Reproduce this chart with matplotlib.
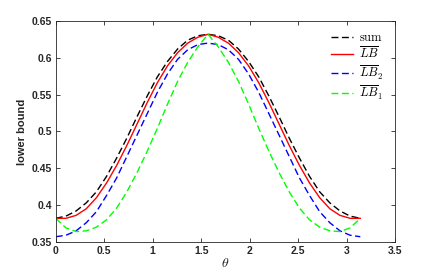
import numpy as np
import matplotlib
matplotlib.use("Agg")
import matplotlib.pyplot as plt

plt.rcParams['mathtext.fontset'] = 'cm'
plt.rcParams['font.family'] = ['Liberation Sans', 'DejaVu Sans']

# theta sampled at k*pi/30, k = 0..30
theta = np.linspace(0, np.pi, 31)

sum_vals = [0.382, 0.385, 0.392, 0.403, 0.418, 0.439, 0.464, 0.491, 0.520, 0.548,
            0.574, 0.595, 0.612, 0.624, 0.630, 0.632, 0.630, 0.624, 0.612, 0.595,
            0.574, 0.548, 0.520, 0.491, 0.464, 0.439, 0.418, 0.403, 0.392, 0.385, 0.382]
lb_vals = [0.382, 0.382, 0.386, 0.395, 0.410, 0.430, 0.454, 0.481, 0.510, 0.539,
           0.566, 0.589, 0.607, 0.620, 0.628, 0.632, 0.628, 0.620, 0.607, 0.589,
           0.566, 0.539, 0.510, 0.481, 0.454, 0.430, 0.410, 0.395, 0.386, 0.382, 0.382]
lb2_vals = [0.357, 0.359, 0.365, 0.376, 0.391, 0.413, 0.437, 0.466, 0.495, 0.524,
            0.553, 0.578, 0.598, 0.611, 0.618, 0.620, 0.618, 0.611, 0.598, 0.578,
            0.553, 0.524, 0.495, 0.466, 0.437, 0.413, 0.391, 0.376, 0.365, 0.359, 0.357]
lb1_vals = [0.382, 0.369, 0.364, 0.365, 0.370, 0.380, 0.396, 0.418, 0.444, 0.473,
            0.504, 0.537, 0.568, 0.594, 0.615, 0.632, 0.615, 0.594, 0.568, 0.537,
            0.504, 0.473, 0.444, 0.418, 0.396, 0.380, 0.370, 0.365, 0.364, 0.369, 0.382]

labels = [r'$\mathrm{sum}$', r'$\overline{LB}$', r'$\overline{LB}_2$', r'$\overline{LB}_1$']

xticks = [0, 0.5, 1, 1.5, 2, 2.5, 3, 3.5]
xtick_labels = ['0', '0.5', '1', '1.5', '2', '2.5', '3', '3.5']
yticks = [0.35, 0.4, 0.45, 0.5, 0.55, 0.6, 0.65]
ytick_labels = ['0.35', '0.4', '0.45', '0.5', '0.55', '0.6', '0.65']

fig = plt.figure(figsize=(4.36, 2.73), dpi=100)
ax = fig.add_axes([0.128, 0.114, 0.778, 0.809])

lw = 1.0
ax.plot(theta, sum_vals, color='k', ls=(0, (5, 2.5)), lw=lw, label=labels[0])
ax.plot(theta, lb_vals, color='#ff0000', ls='-', lw=lw, label=labels[1])
ax.plot(theta, lb2_vals, color='#0000ff', ls=(0, (5, 2.5)), lw=lw, label=labels[2])
ax.plot(theta, lb1_vals, color='#00ff00', ls=(0, (5, 2.5)), lw=lw, label=labels[3])

ax.set_xlim(0, 3.5)
ax.set_ylim(0.35, 0.65)
ax.set_xticks(xticks)
ax.set_xticklabels(xtick_labels, fontweight='bold', fontsize=7.5)
ax.set_yticks(yticks)
ax.set_yticklabels(ytick_labels, fontweight='bold', fontsize=7.5)

axcol = '#262626'
for s in ax.spines.values():
    s.set_color(axcol)
    s.set_linewidth(0.6)
ax.tick_params(direction='in', top=True, right=True, length=3, width=0.6,
               color=axcol, labelcolor=axcol, pad=3)

ax.set_xlabel(r'$\theta$', fontsize=10, labelpad=0, color=axcol)
ax.set_ylabel('lower bound', fontsize=8, fontweight='bold', color=axcol, labelpad=3)

leg = ax.legend(loc='upper right', frameon=False, fontsize=9, handlelength=1.8,
                handletextpad=0.5, labelspacing=0.15, borderaxespad=0.5)

fig.savefig('out.png', dpi=100)
